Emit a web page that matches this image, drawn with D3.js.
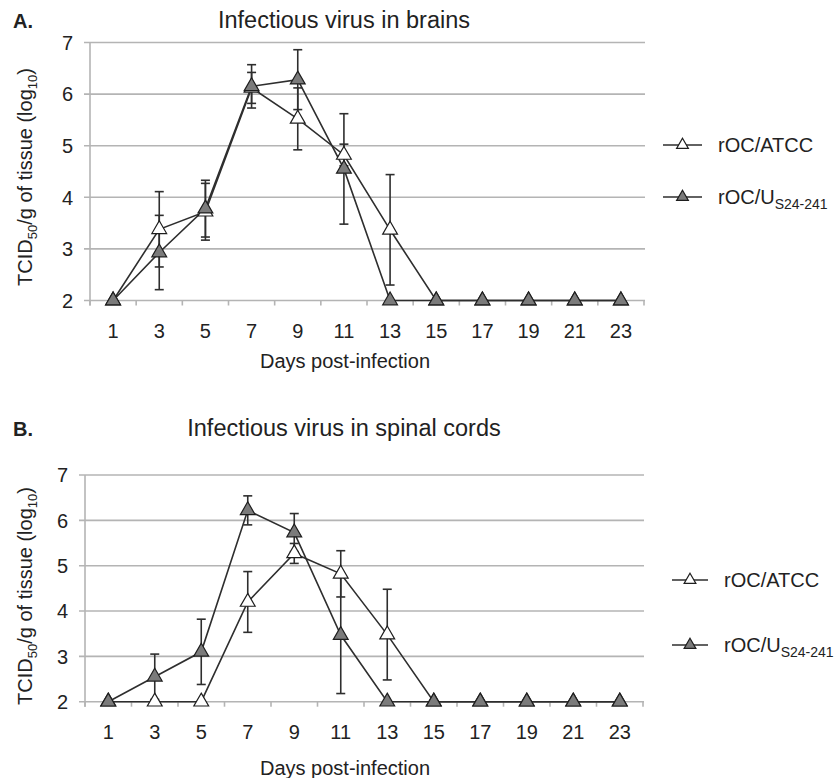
<!DOCTYPE html>
<html>
<head>
<meta charset="utf-8">
<script src="https://cdn.jsdelivr.net/npm/d3@7"></script>
<style>
  html, body { margin: 0; padding: 0; background: #fff; }
  svg { display: block; }
  text { font-family: "Liberation Sans", Arial, sans-serif; fill: #222; }
</style>
</head>
<body>
<svg id="chart" width="838" height="778"></svg>
<script>
// ---- Data ----
const days = ["1","3","5","7","9","11","13","15","17","19","21","23"];
const yTickValues = [2, 3, 4, 5, 6, 7];
const seriesNames = ["rOC/ATCC", "rOC/U"];
const seriesSub = ["", "S24-241"];

// Panel A: brains
const brainATCC    = [2, 3.38, 3.72, 6.12, 5.52, 4.82, 3.37, 2, 2, 2, 2, 2];
const brainATCCErr = [0, 0.73, 0.55, 0.30, 0.60, 0.21, 1.07, 0, 0, 0, 0, 0];
const brainUS      = [2, 2.93, 3.78, 6.15, 6.28, 4.55, 2, 2, 2, 2, 2, 2];
const brainUSErr   = [0, 0.72, 0.55, 0.42, 0.58, 1.07, 0, 0, 0, 0, 0, 0];

// Panel B: spinal cords
const spinalATCC    = [2, 2, 2, 4.20, 5.27, 4.82, 3.48, 2, 2, 2, 2, 2];
const spinalATCCErr = [0, 0, 0, 0.67, 0.22, 0.51, 1.00, 0, 0, 0, 0, 0];
const spinalUS      = [2, 2.55, 3.10, 6.22, 5.73, 3.47, 2, 2, 2, 2, 2, 2];
const spinalUSErr   = [0, 0.50, 0.72, 0.32, 0.42, 1.29, 0, 0, 0, 0, 0, 0];

const svg = d3.select("#chart");
const gridColor = "#b4b4b4";
const lineColor = "#2e2e2e";
const fills = ["#ffffff", "#7b7b7b"];
const tri = d3.symbol().type(d3.symbolTriangle);

function drawPanel(cfg) {
  const g = svg.append("g");
  const x = d3.scaleBand().domain(days).range([cfg.left, cfg.right]).padding(0);
  const y = d3.scaleLinear().domain([2, 7]).range([cfg.bottom, cfg.top]);

  // panel letter and title
  g.append("text").attr("x", 13).attr("y", cfg.titleY)
    .attr("font-size", 20).attr("font-weight", "bold").text(cfg.letter);
  g.append("text").attr("x", 344).attr("y", cfg.titleY)
    .attr("font-size", 23.5).attr("text-anchor", "middle").text(cfg.title);

  // gridlines
  g.selectAll(".grid").data(yTickValues).enter().append("line")
    .attr("x1", cfg.left - 6).attr("x2", cfg.right + 1)
    .attr("y1", d => y(d)).attr("y2", d => y(d))
    .attr("stroke", gridColor).attr("stroke-width", 1.6);
  // y axis line
  g.append("line").attr("x1", cfg.left).attr("x2", cfg.left)
    .attr("y1", y(7)).attr("y2", y(2) + 5)
    .attr("stroke", gridColor).attr("stroke-width", 1.6);
  // x tick marks at category boundaries
  const bounds = days.map(d => x(d)).concat([x(days[days.length - 1]) + x.bandwidth()]);
  g.selectAll(".xt").data(bounds).enter().append("line")
    .attr("x1", d => d).attr("x2", d => d)
    .attr("y1", y(2)).attr("y2", y(2) + 5)
    .attr("stroke", gridColor).attr("stroke-width", 1.6);

  // y tick labels
  g.selectAll(".yl").data(yTickValues).enter().append("text")
    .attr("x", cfg.left - 17).attr("y", d => y(d))
    .attr("dy", "0.36em").attr("text-anchor", "end")
    .attr("font-size", 20).text(d => d);
  // x tick labels
  g.selectAll(".xl").data(days).enter().append("text")
    .attr("x", d => x(d) + x.bandwidth() / 2).attr("y", y(2) + 30)
    .attr("dy", "0.36em").attr("text-anchor", "middle")
    .attr("font-size", 20).text(d => d);
  // x axis title
  g.append("text").attr("x", 345).attr("y", cfg.xTitleY)
    .attr("text-anchor", "middle").attr("font-size", 20).text("Days post-infection");
  // y axis title
  const yt = g.append("text")
    .attr("transform", `translate(${cfg.yTitleX},${cfg.yTitleY}) rotate(-90)`)
    .attr("text-anchor", "middle").attr("font-size", 20);
  yt.append("tspan").text("TCID");
  yt.append("tspan").attr("font-size", 13).attr("dy", 5).text("50");
  yt.append("tspan").attr("dy", -5).text("/g of tissue (log");
  yt.append("tspan").attr("font-size", 13).attr("dy", 5).text("10");
  yt.append("tspan").attr("dy", -5).text(")");

  const cx = i => x(days[i]) + x.bandwidth() / 2;
  const series = cfg.series;
  const line = d3.line().x((d, i) => cx(i)).y(d => y(d));

  // lines
  series.forEach(s => {
    g.append("path").datum(s.values).attr("d", line)
      .attr("fill", "none").attr("stroke", lineColor).attr("stroke-width", 1.6);
  });
  // error bars
  series.forEach(s => {
    s.values.forEach((v, i) => {
      const e = s.errors[i];
      if (!e) return;
      const X = cx(i);
      g.append("line").attr("x1", X).attr("x2", X)
        .attr("y1", y(v + e)).attr("y2", y(v - e))
        .attr("stroke", lineColor).attr("stroke-width", 1.6);
      [v + e, v - e].forEach(w => {
        g.append("line").attr("x1", X - 4.5).attr("x2", X + 4.5)
          .attr("y1", y(w)).attr("y2", y(w))
          .attr("stroke", lineColor).attr("stroke-width", 1.6);
      });
    });
  });
  // markers
  series.forEach((s, k) => {
    g.selectAll(null).data(s.values).enter().append("path")
      .attr("d", tri.size(95))
      .attr("transform", (d, i) => `translate(${cx(i)},${y(d)})`)
      .attr("fill", fills[k]).attr("stroke", "#1e1e1e").attr("stroke-width", 1.2);
  });

  // legend
  cfg.legendY.forEach((ly, k) => {
    g.append("line").attr("x1", cfg.legX0).attr("x2", cfg.legX1)
      .attr("y1", ly).attr("y2", ly)
      .attr("stroke", lineColor).attr("stroke-width", 1.6);
    g.append("path").attr("d", tri.size(60))
      .attr("transform", `translate(${(cfg.legX0 + cfg.legX1) / 2},${ly})`)
      .attr("fill", fills[k]).attr("stroke", "#1e1e1e").attr("stroke-width", 1.2);
    const t = g.append("text").attr("x", cfg.legX1 + 16).attr("y", ly)
      .attr("dy", "0.36em").attr("font-size", 20);
    t.append("tspan").text(seriesNames[k]);
    if (seriesSub[k]) {
      t.append("tspan").attr("font-size", 14).attr("dy", 5).text(seriesSub[k]);
    }
  });
}

drawPanel({
  letter: "A.", title: "Infectious virus in brains", titleY: 28,
  left: 90, right: 644, top: 42.5, bottom: 300.5,
  xTitleY: 368, yTitleX: 32, yTitleY: 177,
  legX0: 663, legX1: 702, legendY: [145, 197],
  series: [
    { values: brainATCC, errors: brainATCCErr },
    { values: brainUS, errors: brainUSErr }
  ]
});

drawPanel({
  letter: "B.", title: "Infectious virus in spinal cords", titleY: 436,
  left: 85, right: 643, top: 475, bottom: 701.7,
  xTitleY: 775, yTitleX: 32, yTitleY: 596,
  legX0: 672, legX1: 708, legendY: [580, 645],
  series: [
    { values: spinalATCC, errors: spinalATCCErr },
    { values: spinalUS, errors: spinalUSErr }
  ]
});
</script>
</body>
</html>
